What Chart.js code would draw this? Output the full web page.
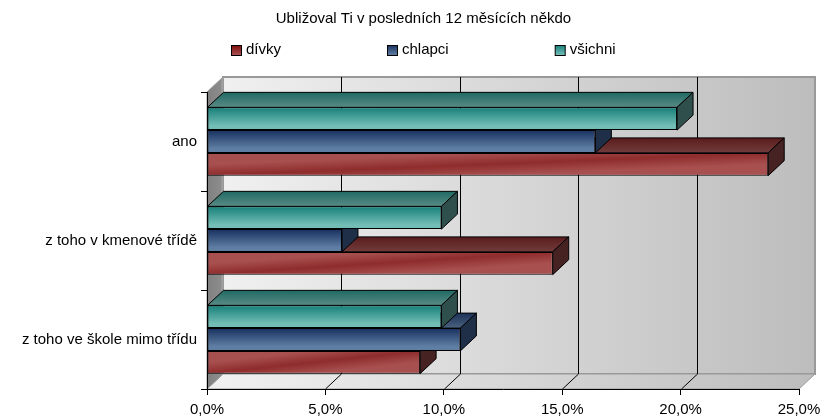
<!DOCTYPE html>
<html>
<head>
<meta charset="utf-8">
<script src="https://cdn.jsdelivr.net/npm/chart.js@4/dist/chart.umd.min.js"></script>
<style>
  html, body { margin: 0; padding: 0; background: #fff; overflow: hidden; }
  #wrap { width: 825px; height: 418px; }
</style>
</head>
<body>
<div id="wrap"><canvas id="chart"></canvas></div>
<script>
const categories = ['ano', 'z toho v kmenové třídě', 'z toho ve škole mimo třídu'];
const divky = [23.7, 14.6, 9.0];
const chlapci = [16.4, 5.7, 10.7];
const vsichni = [19.85, 9.9, 9.9];

// barvy: light/dark = přední stěna, topBack/topFront = horní stěna, side = boční
const red = { light: '#a85050', dark: '#7d0a0a', topBack: '#5a1c1c', topFront: '#723c3c', side: '#472222' };
const blue = { light: '#5f7ea3', dark: '#17305f', topBack: '#1b3158', topFront: '#4b6280', side: '#1f2f47' };
const teal = { light: '#72bdb6', dark: '#157f78', topBack: '#1f6a64', topFront: '#5b8a85', side: '#2f4f4d' };

const DX = 16, DY = 15; // hloubka 3D
const FONT = '"Liberation Sans"', FONT_SIZE = 15;

function poly(ctx, pts, fill) {
  ctx.beginPath();
  pts.forEach((p, i) => i ? ctx.lineTo(p[0], p[1]) : ctx.moveTo(p[0], p[1]));
  ctx.closePath();
  if (fill) { ctx.fillStyle = fill; ctx.fill(); }
}

function wallGradient(ctx, x0, x1) {
  const g = ctx.createLinearGradient(x0, 0, x1, 0);
  g.addColorStop(0, '#f0f0f0');
  g.addColorStop(1, '#bdbdbd');
  return g;
}

// stěny grafu, mřížka
const wallsPlugin = {
  id: 'walls',
  beforeDraw(chart) {
    const { ctx, chartArea: a, scales } = chart;
    const wall = wallGradient(ctx, a.left + DX, a.right + DX);
    ctx.save();
    // zadní stěna
    ctx.strokeStyle = '#999';
    ctx.lineWidth = 2;
    poly(ctx, [[a.left + DX, a.top - DY], [a.right + DX, a.top - DY], [a.right + DX, a.bottom - DY], [a.left + DX, a.bottom - DY]], wall);
    ctx.stroke();
    // podlaha
    ctx.lineWidth = 1;
    poly(ctx, [[a.left, a.bottom], [a.right, a.bottom], [a.right + DX, a.bottom - DY], [a.left + DX, a.bottom - DY]], wall);
    ctx.stroke();
    // levá stěna
    const g = ctx.createLinearGradient(a.left, 0, a.left + DX, 0);
    g.addColorStop(0, '#808080');
    g.addColorStop(0.85, '#8c8c8c');
    g.addColorStop(1, '#b0b0b0');
    poly(ctx, [[a.left, a.top], [a.left + DX, a.top - DY], [a.left + DX, a.bottom - DY], [a.left, a.bottom]], g);
    ctx.stroke();
    // svislé čáry
    ctx.strokeStyle = '#000';
    scales.x.ticks.forEach(t => {
      if (t.value === 0 || t.value === scales.x.max) return;
      const x = Math.round(scales.x.getPixelForValue(t.value)) + 0.5;
      ctx.beginPath();
      ctx.moveTo(x, a.bottom);
      ctx.lineTo(x + DX, a.bottom - DY);
      ctx.lineTo(x + DX, a.top - DY);
      ctx.stroke();
    });
    ctx.restore();
  },
  // horní a boční stěna sloupců, přechod přední stěny
  beforeDatasetDraw(chart, args) {
    const { ctx } = chart;
    const c = chart.data.datasets[args.index].colors;
    ctx.save();
    ctx.strokeStyle = '#000';
    ctx.lineWidth = 1;
    args.meta.data.forEach(el => {
      const left = el.base, right = el.x, top = el.y - el.height / 2, bottom = el.y + el.height / 2;
      const gt = ctx.createLinearGradient(0, top - DY, 0, top);
      gt.addColorStop(0, c.topBack);
      gt.addColorStop(1, c.topFront);
      poly(ctx, [[left, top], [right, top], [right + DX, top - DY], [left + DX, top - DY]], gt);
      ctx.stroke();
      poly(ctx, [[right, top], [right + DX, top - DY], [right + DX, bottom - DY], [right, bottom]], c.side);
      ctx.stroke();
      let gf;
      if (c === red) {
        // tmavý pruh po úhlopříčce
        const w = right - left, h = bottom - top, d = Math.hypot(w, h);
        const e = w * h / d, nx = h / d, ny = w / d;
        const cx = (left + right) / 2, cy = (top + bottom) / 2;
        gf = ctx.createLinearGradient(cx - nx * e, cy - ny * e, cx + nx * e, cy + ny * e);
        gf.addColorStop(0, c.light);
        gf.addColorStop(0.25, c.light);
        gf.addColorStop(0.5, '#8f2c2c');
        gf.addColorStop(0.75, c.light);
        gf.addColorStop(1, c.light);
      } else {
        gf = ctx.createLinearGradient(0, top, 0, bottom);
        gf.addColorStop(0, c.dark);
        gf.addColorStop(0.8, c.light);
        gf.addColorStop(1, c.light);
      }
      el.options = Object.assign({}, el.options, { backgroundColor: gf });
    });
    ctx.restore();
  },
  afterLayout(chart) {
    chart.titleBlock.left += 24;
    chart.titleBlock.right += 24;
  },
  // legenda s rovnoměrnými mezerami
  afterDraw(chart) {
    const { ctx } = chart;
    const gap = 106, boxSize = 10, y = 50;
    let x = 231;
    ctx.save();
    ctx.font = FONT_SIZE + 'px ' + FONT;
    ctx.textBaseline = 'middle';
    ctx.textAlign = 'left';
    [2, 1, 0].forEach(i => {
      const ds = chart.data.datasets[i];
      const g = ctx.createLinearGradient(0, y - boxSize / 2, 0, y + boxSize / 2);
      g.addColorStop(0, ds.colors.dark);
      g.addColorStop(1, ds.colors.light);
      ctx.fillStyle = g;
      ctx.strokeStyle = '#000';
      ctx.fillRect(x + 0.5, y - boxSize / 2 + 0.5, boxSize, boxSize);
      ctx.strokeRect(x + 0.5, y - boxSize / 2 + 0.5, boxSize, boxSize);
      ctx.fillStyle = '#000';
      ctx.fillText(ds.label, x + 15, y);
      x += 15 + ctx.measureText(ds.label).width + gap;
    });
    ctx.restore();
  }
};

new Chart(document.getElementById('chart'), {
  type: 'bar',
  data: {
    labels: categories,
    datasets: [
      { label: 'všichni', data: vsichni, backgroundColor: teal.light, colors: teal },
      { label: 'chlapci', data: chlapci, backgroundColor: blue.light, colors: blue },
      { label: 'dívky', data: divky, backgroundColor: red.light, colors: red }
    ]
  },
  options: {
    indexAxis: 'y',
    responsive: true,
    maintainAspectRatio: false,
    animation: false,
    layout: { padding: { right: 26, top: 0, left: 0, bottom: 0 } },
    datasets: {
      bar: {
        categoryPercentage: 0.69,
        barPercentage: 1,
        borderColor: '#000',
        borderWidth: 1,
        borderSkipped: false
      }
    },
    plugins: {
      legend: { display: false },
      tooltip: { enabled: false },
      title: {
        display: true,
        text: 'Ubližoval Ti v posledních 12 měsících někdo',
        color: '#000',
        font: { family: FONT, size: FONT_SIZE, weight: 'normal' },
        padding: { top: 9.5, bottom: 64.5 }
      }
    },
    scales: {
      x: {
        min: 0,
        max: 25,
        ticks: {
          stepSize: 5,
          color: '#000',
          padding: 6,
          maxRotation: 0,
          font: { family: FONT, size: FONT_SIZE },
          callback: v => v.toFixed(1).replace('.', ',') + '%'
        },
        grid: { drawOnChartArea: false, tickLength: 6, tickColor: '#000' },
        border: { color: '#000' },
        afterFit(s) { s.height = 29; s.paddingRight = 0; s.paddingLeft = 0; }
      },
      y: {
        ticks: {
          color: '#000',
          padding: 4,
          font: { family: FONT, size: FONT_SIZE }
        },
        grid: { offset: true, drawOnChartArea: false, tickLength: 6, tickColor: '#000' },
        border: { color: '#000' },
        afterFit(s) { s.width = 207; }
      }
    }
  },
  plugins: [wallsPlugin]
});
</script>
</body>
</html>
